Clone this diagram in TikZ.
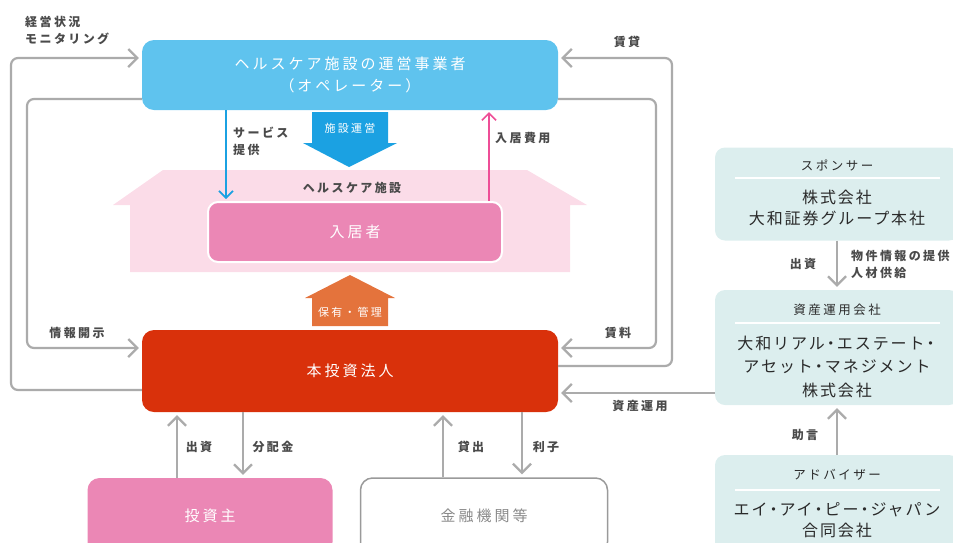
\documentclass[tikz,border=0pt]{standalone}
\usepackage{fontspec}
\setmainfont{Noto Sans CJK JP}
\newfontfamily\jpsp[LetterSpace=20]{Noto Sans CJK JP}
\newfontfamily\jpsq[LetterSpace=12]{Noto Sans CJK JP}
\newcommand\nardot{\hbox to 12pt{\hss ・\hss}}
\usetikzlibrary{arrows.meta}
\definecolor{opblue}{HTML}{5FC3EE}
\definecolor{opdark}{HTML}{1BA1E2}
\definecolor{hpink}{HTML}{FBDCE8}
\definecolor{rpink}{HTML}{EB87B5}
\definecolor{ppink}{HTML}{EE4E97}
\definecolor{fundred}{HTML}{D9310B}
\definecolor{horange}{HTML}{E4733C}
\definecolor{lgray}{HTML}{ABABAB}
\definecolor{tgray}{HTML}{4A4A4A}
\definecolor{teal}{HTML}{DCEEEE}
\definecolor{tdark}{HTML}{2A2A2A}
\definecolor{fibord}{HTML}{9A9A9A}
\definecolor{fitext}{HTML}{8A8A8A}
\tikzset{
  gline/.style={draw=lgray, line width=2.2pt, rounded corners=7pt},
  garrow/.style={gline, -{Straight Barb[length=9pt,width=18pt]}, shorten >=3pt},
  bluearr/.style={draw=opdark, line width=1.6pt, -{Straight Barb[length=7pt,width=14pt]}, shorten >=2pt},
  pinkarr/.style={draw=ppink, line width=1.6pt, -{Straight Barb[length=7pt,width=14pt]}, shorten >=2pt},
  lbl/.style={inner sep=0pt, text=tgray, font=\jpsp\fontsize{12}{17}\selectfont\bfseries},
  box/.style={rounded corners=12pt, inner sep=0pt, text=white, align=center,
    font=\jpsp\fontsize{15}{22}\selectfont},
  smallw/.style={inner sep=0pt, text=white, font=\jpsp\fontsize{11}{13}\selectfont},
  tbox/.style={fill=teal, rounded corners=10pt, inner sep=0pt},
  thead/.style={inner sep=0pt, text=tdark, font=\jpsp\fontsize{12.5}{15}\selectfont},
  tname/.style={inner sep=0pt, text=tdark, align=center, font=\jpsq\fontsize{16}{21}\selectfont},
  sepline/.style={draw=white, line width=1.5pt}
}
\begin{document}
\begin{tikzpicture}[x=1pt,y=-1pt]
\useasboundingbox (0,0) rectangle (953,542);
\clip (0,0) rectangle (953,542);

% healthcare facility (house)
\fill[hpink] (113,205) -- (163,170) -- (527,170) -- (587,205) -- (570,205)
  -- (570,272) -- (130,272) -- (130,205) -- cycle;
\node[lbl] (hlabel) at (352,188) {ヘルスケア施設};

% main boxes
\node[box, fill=opblue, minimum width=416pt, minimum height=70pt] (op) at (350,75)
  {ヘルスケア施設の運営事業者\\（オペレーター）};
\node[box, fill=rpink, draw=white, line width=2pt, rounded corners=10pt,
  minimum width=294pt, minimum height=60pt] (res) at (355,232) {入居者};
\node[box, fill=fundred, minimum width=416pt, minimum height=82pt] (fund) at (350,371) {本投資法人};
\node[box, fill=rpink, minimum width=245pt, minimum height=76pt] (inv) at (210,516) {投資主};
\node[box, fill=white, draw=fibord, line width=1.5pt, text=fitext,
  minimum width=247pt, minimum height=76pt] (fi) at (484,516) {金融機関等};

% facility operation block arrow
\fill[opdark] (312,112) -- (388,112) -- (388,143) -- (397,143) -- (349,167)
  -- (303,143) -- (312,143) -- cycle;
\node[smallw] (opsg) at (350,128) {施設運営};

% holding / management house arrow
\fill[horange] (350,275) -- (395,298) -- (388,298) -- (388,326) -- (312,326)
  -- (312,298) -- (305,298) -- cycle;
\node[smallw] (hold) at (350,312) {保有・管理};

% service and fee arrows
\coordinate (xsv) at (226,0);
\coordinate (xfee) at (489,0);
\draw[bluearr] (xsv |- op.south) -- (xsv |- res.north);
\draw[pinkarr] (xfee |- res.north) -- (xfee |- op.south);

% gray loop connectors
\coordinate (oL) at (11,0);
\coordinate (iL) at (27,0);
\coordinate (oR) at (672,0);
\coordinate (iR) at (656,0);
\coordinate (yMon) at (0,58);
\coordinate (yTop) at (0,99);
\coordinate (yInfo) at (0,348);
\coordinate (yMonB) at (0,390);
\coordinate (yLease) at (0,366);
\coordinate (yAM) at (0,393);

\draw[garrow] (fund.west |- yMonB) -| (oL |- yMon) -- (op.west |- yMon);
\draw[garrow] (op.west |- yTop) -| (iL |- yInfo) -- (fund.west |- yInfo);
\draw[garrow] (fund.east |- yLease) -| (oR |- yMon) -- (op.east |- yMon);
\draw[garrow] (op.east |- yTop) -| (iR |- yInfo) -- (fund.east |- yInfo);

% right column
\node[tbox, minimum width=244pt, minimum height=93pt] (sp) at (837,194) {};
\node[thead] (sph) at (837,165) {スポンサー};
\draw[sepline] (735,178) -- (940,178);
\node[tname] (spn) at (837,208) {株式会社\\大和証券グループ本社};

\node[tbox, minimum width=244pt, minimum height=115pt] (am) at (837,347.5) {};
\node[thead] (amh) at (837,310) {資産運用会社};
\draw[sepline] (735,323) -- (940,323);
\node[tname, font=\jpsq\fontsize{16}{23.5}\selectfont] (amn) at (837,366.5)
  {大和リアル\nardot エステート\nardot\\アセット\nardot マネジメント\\株式会社};

\node[tbox, minimum width=244pt, minimum height=100pt] (adv) at (837,505) {};
\node[thead] (advh) at (837,475) {アドバイザー};
\draw[sepline] (735,490) -- (940,490);
\node[tname] (advn) at (837,520.5) {エイ\nardot アイ\nardot ピー\nardot ジャパン\\合同会社};

\draw[garrow, rounded corners=0pt] (sp.south) -- (am.north);
\draw[garrow, rounded corners=0pt] (adv.north) -- (am.south);
\draw[garrow, rounded corners=0pt] (am.west |- yAM) -- (fund.east |- yAM);

% bottom connectors
\coordinate (xa) at (177,0);
\coordinate (xb) at (243,0);
\coordinate (xc) at (443,0);
\coordinate (xd) at (522,0);
\draw[garrow] (xa |- inv.north) -- (xa |- fund.south);
\draw[garrow] (xb |- fund.south) -- (xb |- inv.north);
\draw[garrow] (xc |- fi.north) -- (xc |- fund.south);
\draw[garrow] (xd |- fund.south) -- (xd |- fi.north);

% labels
\node[lbl, anchor=west, align=left] (lmon) at (25,30) {経営状況\\モニタリング};
\node[lbl, anchor=west, align=left] (lsv) at (233,141) {サービス\\提供};
\node[lbl, anchor=west] (lfee) at (495,138) {入居費用};
\node[lbl] (llease) at (627,42) {賃貸};
\node[lbl] (lrent) at (618,333) {賃料};
\node[lbl] (linfo) at (77,333) {情報開示};
\node[lbl] (lam) at (640,406) {資産運用};
\node[lbl] (linv) at (199,447) {出資};
\node[lbl] (ldiv) at (273,447) {分配金};
\node[lbl] (lloan) at (471,447) {貸出};
\node[lbl] (lint) at (546,447) {利子};
\node[lbl] (lspinv) at (803,264) {出資};
\node[lbl, anchor=west, align=left] (lsup) at (851,264) {物件情報の提供\\人材供給};
\node[lbl] (ladv) at (805,435) {助言};
\end{tikzpicture}
\end{document}
